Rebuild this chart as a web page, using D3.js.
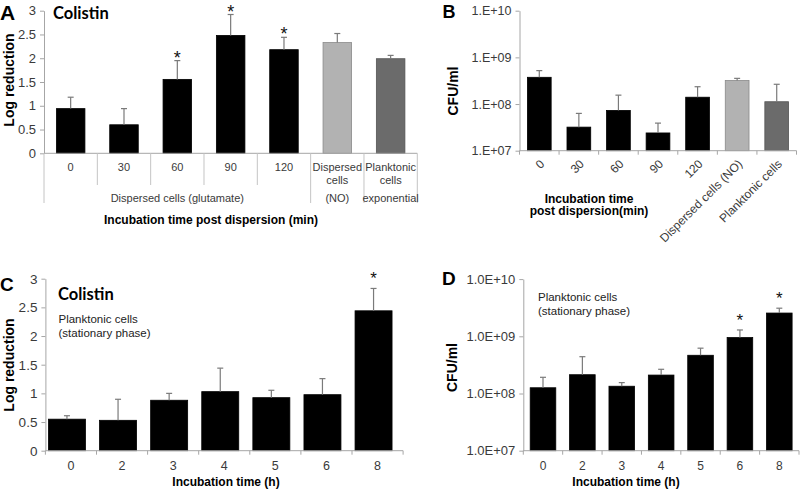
<!DOCTYPE html>
<html><head><meta charset="utf-8">
<script src="https://cdn.jsdelivr.net/npm/d3@7"></script>
<style>
body{margin:0;background:#fff}
svg{display:block}
text{font-family:"Liberation Sans",Arial,sans-serif}
</style>
</head><body>
<svg id="chart" width="800" height="489"></svg>
<script>
// ---------- Panel A: log reduction (colistin), dispersed cells ----------
const catsA = ["0","30","60","90","120","Dispersed cells","Planktonic cells"];
const valsA = [0.94, 0.60, 1.555, 2.48, 2.18, 2.33, 1.99];
const errTopA = [1.18, 0.94, 1.95, 2.92, 2.44, 2.52, 2.06];
const starA = [false, false, true, true, true, false, false];
const groupsA = [{label:"Dispersed cells (glutamate)", n:5}, {label:"(NO)", n:1}, {label:"exponential", n:1}];
const ticksA = [0, 0.5, 1, 1.5, 2, 2.5, 3];

// ---------- Panel B: CFU/ml, dispersed cells ----------
const catsB = ["0","30","60","90","120","Dispersed cells (NO)","Planktonic cells"];
const valsB = [3.74e8, 3.2e7, 7.3e7, 2.4e7, 1.4e8, 3.2e8, 1.12e8];
const errTopB = [5.2e8, 6.3e7, 1.55e8, 3.9e7, 2.35e8, 3.55e8, 2.65e8];
const ticksB = [1e7, 1e8, 1e9, 1e10];
const tickLabelsB = ["1.E+07", "1.E+08", "1.E+09", "1.E+10"];

// ---------- Panel C: log reduction, planktonic stationary ----------
const catsC = ["0","2","3","4","5","6","8"];
const valsC = [0.55, 0.53, 0.88, 1.03, 0.925, 0.977, 2.44];
const errTopC = [0.61, 0.897, 1.0, 1.44, 1.054, 1.257, 2.83];
const starC = [false, false, false, false, false, false, true];
const ticksC = [0, 0.5, 1, 1.5, 2, 2.5, 3];

// ---------- Panel D: CFU/ml, planktonic stationary ----------
const catsD = ["0","2","3","4","5","6","8"];
const valsD = [1.26e8, 2.13e8, 1.34e8, 2.1e8, 4.66e8, 9.5e8, 2.55e9];
const errTopD = [1.92e8, 4.4e8, 1.55e8, 2.65e8, 6.2e8, 1.29e9, 3.1e9];
const starD = [false, false, false, false, false, true, true];
const ticksD = [1e7, 1e8, 1e9, 1e10];
const tickLabelsD = ["1.0E+07", "1.0E+08", "1.0E+09", "1.0E+10"];

// colours per category (A and B share)
const coloursAB = ["#000","#000","#000","#000","#000","#b2b2b2","#6b6b6b"];
const strokesAB = ["#000","#000","#000","#000","#000","#8a8a8a","#555"];

const svg = d3.select("#chart");
const AXIS = "#a6a6a6";
const TICKTXT = "#3a3a3a";
const ERR = "#7a7a7a";

function yAxis(g, y, x0, ticks, fmt, fs) {
  const ax = d3.axisLeft(y).tickValues(ticks).tickFormat(fmt).tickSize(4).tickSizeOuter(0).tickPadding(4);
  const a = g.append("g").attr("transform", `translate(${x0},0)`).call(ax);
  a.select(".domain").attr("stroke", AXIS);
  a.selectAll(".tick line").attr("stroke", AXIS);
  a.selectAll(".tick text").attr("fill", TICKTXT).style("font-size", fs + "px").style("font-family", '"Liberation Sans",Arial,sans-serif');
  return a;
}

function bars(g, x, y, cats, vals, errs, fills, strokes, stars, starOff, starSize) {
  const bw = x.bandwidth();
  g.selectAll(null).data(cats).enter().append("rect")
    .attr("x", c => x(c)).attr("width", bw)
    .attr("y", (c, i) => y(vals[i]))
    .attr("height", (c, i) => y.range()[0] - y(vals[i]))
    .attr("fill", (c, i) => fills[i]).attr("stroke", (c, i) => strokes[i]).attr("stroke-width", 0.8);
  const eb = g.selectAll(null).data(cats).enter().append("g");
  eb.append("line")
    .attr("x1", c => x(c) + bw / 2).attr("x2", c => x(c) + bw / 2)
    .attr("y1", (c, i) => y(vals[i])).attr("y2", (c, i) => y(errs[i]))
    .attr("stroke", ERR).attr("stroke-width", 1.2);
  eb.append("line")
    .attr("x1", c => x(c) + bw / 2 - 3).attr("x2", c => x(c) + bw / 2 + 3)
    .attr("y1", (c, i) => y(errs[i])).attr("y2", (c, i) => y(errs[i]))
    .attr("stroke", ERR).attr("stroke-width", 1.2);
  if (stars) {
    g.selectAll(null).data(cats.filter((c, i) => stars[i])).enter().append("text")
      .attr("x", c => x(c) + bw / 2)
      .attr("y", c => y(errs[cats.indexOf(c)]) + starOff)
      .attr("text-anchor", "middle").style("font-size", starSize + "px").attr("fill", "#111").text("*");
  }
}

function bandBottom(g, x, yb, ext) {
  const step = x.step();
  const r = x.range();
  g.append("line").attr("x1", r[0]).attr("x2", r[1]).attr("y1", yb).attr("y2", yb).attr("stroke", AXIS);
  const bounds = d3.range(x.domain().length + 1).map(i => r[0] + i * step);
  g.selectAll(null).data(bounds).enter().append("line")
    .attr("x1", d => d).attr("x2", d => d).attr("y1", yb).attr("y2", yb + ext).attr("stroke", AXIS);
}

function label(g, txt, x, y, size, weight, anchor, fam, fill) {
  return g.append("text").attr("x", x).attr("y", y).attr("text-anchor", anchor || "start")
    .style("font-size", size + "px").style("font-weight", weight || "normal")
    .style("font-family", fam || '"Liberation Sans",Arial,sans-serif')
    .attr("fill", fill || "#000").text(txt);
}
function vlabel(g, txt, x, y, size) {
  g.append("text").attr("transform", `translate(${x},${y}) rotate(-90)`).attr("text-anchor", "middle")
    .style("font-size", size + "px").style("font-weight", "bold").text(txt);
}

// ================= Panel A =================
{
  const g = svg.append("g");
  const x0 = 44, x1 = 417.3, yT = 10.7, yB = 153.3;
  const x = d3.scaleBand().domain(catsA).range([x0, x1]).paddingInner(0.465).paddingOuter(0.2325);
  const y = d3.scaleLinear().domain([0, 3]).range([yB, yT]);
  yAxis(g, y, x0, ticksA, d => String(d), 13);
  bars(g, x, y, catsA, valsA, errTopA, coloursAB, strokesAB, starA, 3, 18);
  const step = x.step();
  g.append("line").attr("x1", x0).attr("x2", x1).attr("y1", yB).attr("y2", yB).attr("stroke", AXIS);
  let idx = 0;
  const groupEdges = [0];
  groupsA.forEach(gr => { idx += gr.n; groupEdges.push(idx); });
  d3.range(catsA.length + 1).forEach(i => {
    const xx = x0 + i * step;
    const long = groupEdges.includes(i);
    g.append("line").attr("x1", xx).attr("x2", xx).attr("y1", yB).attr("y2", long ? 203 : 185).attr("stroke", "#c4c4c4");
  });
  catsA.forEach(c => {
    const parts = c.split(" ");
    parts.forEach((p, j) => label(g, p, x(c) + x.bandwidth() / 2, 171 + j * 12.5, 11, "normal", "middle", null, TICKTXT));
  });
  let start = 0;
  groupsA.forEach(gr => {
    const cx = x0 + (start + gr.n / 2) * step;
    label(g, gr.label, cx, 201.5, 11, "normal", "middle", null, TICKTXT);
    start += gr.n;
  });
  label(g, "Incubation time post dispersion (min)", 211, 223.5, 12, "bold", "middle");
  vlabel(g, "Log reduction", 13.5, 80, 14);
  label(g, "A", 0, 19.5, 21, "bold");
  label(g, "Colistin", 53, 19, 16.5, "bold", "start", "Lato, sans-serif");
}

// ================= Panel B =================
{
  const g = svg.append("g");
  const x0 = 519.5, x1 = 796.5, yT = 10.7, yB = 150.7;
  const x = d3.scaleBand().domain(catsB).range([x0, x1]).paddingInner(0.4).paddingOuter(0.2);
  const y = d3.scaleLog().domain([1e7, 1e10]).range([yB, yT]);
  yAxis(g, y, x0, ticksB, (d, i) => tickLabelsB[i], 12.5);
  bars(g, x, y, catsB, valsB, errTopB, coloursAB, strokesAB, null);
  bandBottom(g, x, yB, 4);
  catsB.forEach(c => {
    g.append("text").attr("transform", `translate(${x(c) + x.bandwidth() / 2 + 3},${yB + 11}) rotate(-45)`)
      .attr("text-anchor", "end").attr("dy", "0.35em").style("font-size", "12px").attr("fill", TICKTXT).text(c);
  });
  label(g, "Incubation time", 589, 202.5, 12, "bold", "middle");
  label(g, "post dispersion(min)", 589, 215, 12, "bold", "middle");
  vlabel(g, "CFU/ml", 457.5, 91, 14);
  label(g, "B", 442.5, 17.5, 18, "bold");
}

// ================= Panel C =================
{
  const g = svg.append("g");
  const x0 = 45.4, x1 = 403.1, yT = 278.7, yB = 450.7;
  const x = d3.scaleBand().domain(catsC).range([x0, x1]);
  const xb = d3.scaleBand().domain(catsC).range([x0 - 4, x1 - 4]).paddingInner(0.276).paddingOuter(0.138);
  const y = d3.scaleLinear().domain([0, 3]).range([yB, yT]);
  yAxis(g, y, x0, ticksC, d => String(d), 13.5);
  bars(g, xb, y, catsC, valsC, errTopC, catsC.map(() => "#000"), catsC.map(() => "#000"), starC, -4, 17);
  bandBottom(g, x, yB, 4);
  catsC.forEach(c => label(g, c, x(c) + x.bandwidth() / 2, 469.5, 12.5, "normal", "middle", null, TICKTXT));
  label(g, "Incubation time (h)", 226, 486, 12, "bold", "middle");
  vlabel(g, "Log reduction", 13.5, 365, 14);
  label(g, "C", 0, 291, 19, "bold");
  label(g, "Colistin", 58, 300, 16.5, "bold", "start", "Lato, sans-serif");
  label(g, "Planktonic cells", 58.5, 322.7, 11.5, "normal", "start", null, "#222");
  label(g, "(stationary phase)", 58.5, 337, 11.5, "normal", "start", null, "#222");
}

// ================= Panel D =================
{
  const g = svg.append("g");
  const x0 = 523.3, x1 = 799, yT = 279.1, yB = 450.7;
  const x = d3.scaleBand().domain(catsD).range([x0, x1]).paddingInner(0.35).paddingOuter(0.175);
  const y = d3.scaleLog().domain([1e7, 1e10]).range([yB, yT]);
  yAxis(g, y, x0, ticksD, (d, i) => tickLabelsD[i], 13);
  bars(g, x, y, catsD, valsD, errTopD, catsD.map(() => "#000"), catsD.map(() => "#000"), starD, -4, 17);
  bandBottom(g, x, yB, 4);
  catsD.forEach(c => label(g, c, x(c) + x.bandwidth() / 2, 469.5, 12, "normal", "middle", null, TICKTXT));
  label(g, "Incubation time (h)", 626, 486, 12, "bold", "middle");
  vlabel(g, "CFU/ml", 457, 367.5, 14);
  label(g, "D", 442, 285, 19, "bold");
  label(g, "Planktonic cells", 538, 300.5, 11.5, "normal", "start", null, "#222");
  label(g, "(stationary phase)", 538, 315, 11.5, "normal", "start", null, "#222");
}
</script>
</body></html>
